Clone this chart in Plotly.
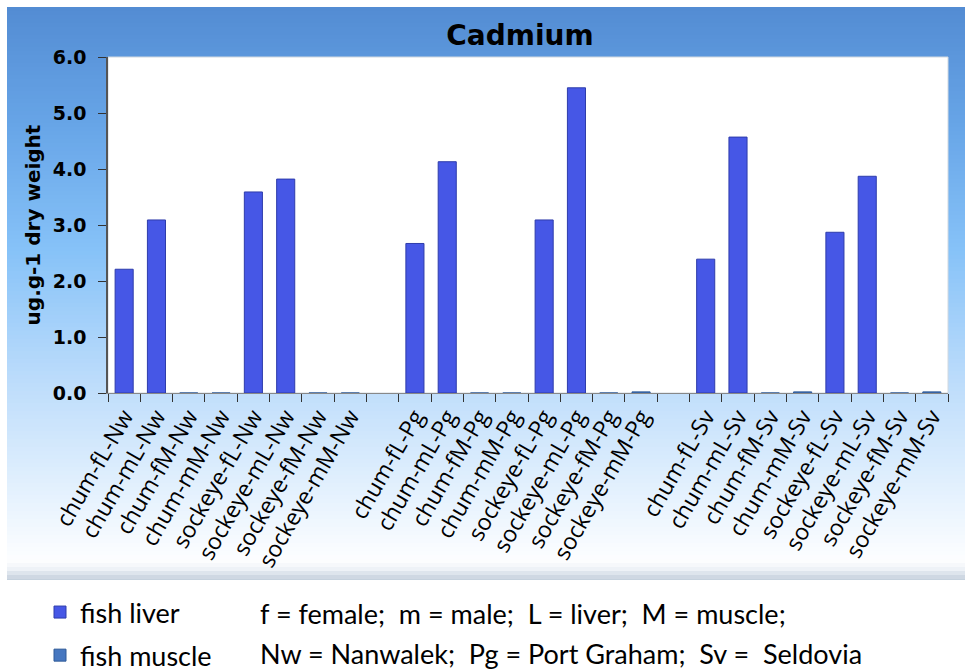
import plotly.graph_objects as go

# categories (blank entries are the spacer slots between the three sites)
categories = [
    "chum-fL-Nw", "chum-mL-Nw", "chum-fM-Nw", "chum-mM-Nw",
    "sockeye-fL-Nw", "sockeye-mL-Nw", "sockeye-fM-Nw", "sockeye-mM-Nw",
    " ",
    "chum-fL-Pg", "chum-mL-Pg", "chum-fM-Pg", "chum-mM-Pg",
    "sockeye-fL-Pg", "sockeye-mL-Pg", "sockeye-fM-Pg", "sockeye-mM-Pg",
    "  ",
    "chum-fL-Sv", "chum-mL-Sv", "chum-fM-Sv", "chum-mM-Sv",
    "sockeye-fL-Sv", "sockeye-mL-Sv", "sockeye-fM-Sv", "sockeye-mM-Sv",
]

# Cd, ug/g dry weight
liver = [2.21, 3.09, None, None, 3.59, 3.82, None, None,
         None,
         2.67, 4.13, None, None, 3.09, 5.45, None, None,
         None,
         2.39, 4.57, None, None, 2.87, 3.87, None, None]
muscle = [None, None, 0.0, 0.0, None, None, 0.0, 0.0,
          None,
          None, None, 0.0, 0.0, None, None, 0.0, 0.02,
          None,
          None, None, 0.0, 0.02, None, None, 0.0, 0.02]

W, H = 965, 672
L, R, T, B = 108, 948, 57, 393


def px_x(x):
    return (x - L) / (R - L)


def px_y(y):
    return (B - y) / (B - T)


def mix(c1, c2, t):
    a = [int(c1[i:i + 2], 16) for i in (1, 3, 5)]
    b = [int(c2[i:i + 2], 16) for i in (1, 3, 5)]
    return "#" + "".join("%02x" % round(a[k] + (b[k] - a[k]) * t) for k in range(3))


# background gradient stops (pixel y, colour)
stops = [(7, "#538cd3"), (130, "#68a6e8"), (250, "#86c2f8"),
         (380, "#bcdcfb"), (470, "#dcedfd"), (560, "#fdfeff"),
         (568, "#f2f5f9"), (580, "#c3cfdc")]

shapes = []
step = 4
y = 7
while y < 580:
    y2 = min(y + step, 580)
    mid = (y + y2) / 2
    for (ya, ca), (yb, cb) in zip(stops[:-1], stops[1:]):
        if ya <= mid <= yb:
            col = mix(ca, cb, (mid - ya) / (yb - ya))
            break
    shapes.append(dict(type="rect", xref="paper", yref="paper", layer="below",
                       x0=px_x(7), x1=px_x(W + 2), y0=px_y(y2), y1=px_y(y),
                       fillcolor=col, line=dict(width=0)))
    y = y2

# white plot area
shapes.append(dict(type="rect", xref="paper", yref="paper", layer="below",
                   x0=0, x1=1, y0=0, y1=1, fillcolor="white",
                   line=dict(color="#d0d8e0", width=1)))

fig = go.Figure()
fig.add_trace(go.Bar(
    x=categories, y=liver, name="fish liver",
    marker=dict(color="#4657e6", line=dict(color="#2e3cab", width=1)),
    legendgroup="a",
))
fig.add_trace(go.Bar(
    x=categories, y=muscle, name="fish muscle",
    marker=dict(color="#4677c0", line=dict(color="#2f5a98", width=1)),
    legendgroup="b",
))

note_font = dict(family="Lato", size=27, color="black")

fig.update_layout(
    width=W, height=H,
    margin=dict(l=L, r=W - R, t=T, b=H - B, autoexpand=False),
    paper_bgcolor="white",
    plot_bgcolor="white",
    barmode="overlay",
    bargap=0.44,
    shapes=shapes,
    title=dict(text="<b>Cadmium</b>", x=px_x(520), xref="paper", xanchor="center",
               y=1 - 35 / H, yanchor="middle",
               font=dict(family="DejaVu Sans", size=28, color="black")),
    xaxis=dict(
        type="category", categoryorder="array", categoryarray=categories,
        tickson="boundaries", ticks="outside", ticklen=8, tickcolor="#333333",
        showline=True, linecolor="#888888", linewidth=1,
        tickangle=-60, showgrid=False, automargin=False,
        tickfont=dict(family="Open Sans", size=23, color="black"),
    ),
    yaxis=dict(
        range=[0, 6], dtick=1, tickformat=".1f",
        ticks="outside", ticklen=8, tickcolor="#333333",
        showline=True, linecolor="#555555", linewidth=1.5,
        showgrid=False, zeroline=False, automargin=False,
        ticklabelstandoff=8,
        tickfont=dict(family="DejaVu Sans", size=19, color="black", weight="bold"),
        title=dict(text="<b>ug.g-1 dry weight</b>", standoff=7,
                   font=dict(family="DejaVu Sans", size=20, color="black")),
    ),
    legend=dict(
        x=px_x(40), y=px_y(588), xanchor="left", yanchor="top",
        orientation="v", traceorder="grouped", tracegroupgap=5,
        bgcolor="rgba(0,0,0,0)",
        font=note_font,
    ),
    showlegend=True,
)

notes = [
    ("f = female;  m = male;  L = liver;  M = muscle;", 613),
    ("Nw = Nanwalek;  Pg = Port Graham;  Sv =  Seldovia", 653),
]
for text, ypx in notes:
    fig.add_annotation(text=text, xref="paper", yref="paper",
                       x=px_x(258), y=px_y(ypx), xanchor="left", yanchor="middle",
                       showarrow=False, font=note_font)

# the page's default body margin would shift the chart by 8px
fig.write_html("out.html", config={"displayModeBar": False},
               post_script="document.body.style.margin='0';")
